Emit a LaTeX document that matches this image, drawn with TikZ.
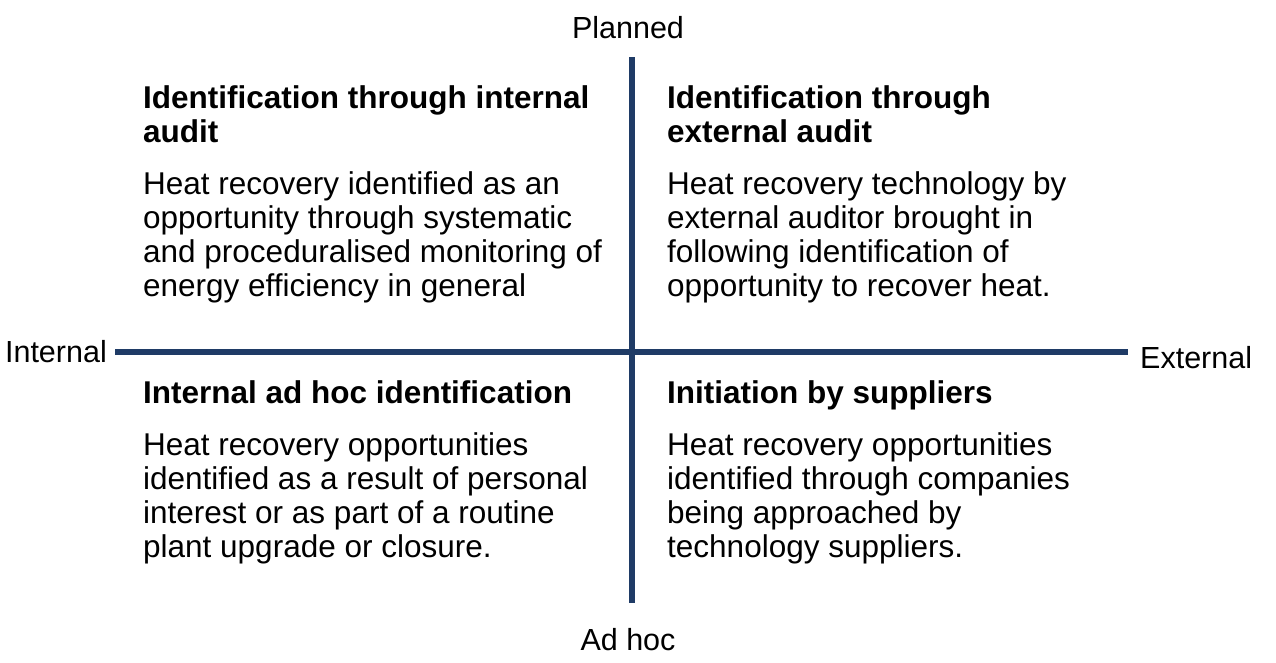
\documentclass[tikz,border=0pt]{standalone}
\usepackage{fontspec}
\setmainfont{Liberation Sans}
\definecolor{axisblue}{HTML}{1F3B66}
% one paragraph block whose baseline is that of its first line
\newcommand\qtext[1]{\parbox[t]{470pt}{\raggedright #1}}
\begin{document}
\begin{tikzpicture}[x=1pt,y=-1pt,
  txt/.style={inner sep=0pt, font=\fontsize{31.5}{34}\selectfont},
  body/.style={txt, anchor=base west},
  head/.style={body, font=\fontsize{31.5}{34}\selectfont\bfseries},
  axislabel/.style={inner sep=0pt, font=\fontsize{30.5}{34}\selectfont},
  axis/.style={draw=axisblue, line width=6pt}]
  \useasboundingbox[fill=white] (0,0) rectangle (1276,662);

  % axis end points
  \coordinate (vtop) at (632,57);
  \coordinate (vbot) at (632,603);
  \coordinate (hleft) at (115,352);
  \coordinate (hright) at (1128,352);
  \draw[axis] (vtop) -- (vbot);
  \draw[axis] (hleft) -- (hright);

  % axis labels
  \node[axislabel, anchor=base] (planned) at (628,38) {Planned};
  \node[axislabel, anchor=base] (adhoc) at (628,650) {Ad hoc};
  \node[axislabel, anchor=base east] (internal) at (107,362) {Internal};
  \node[axislabel, anchor=base west] (external) at (1140,368) {External};

  % top left quadrant
  \node[head] (h1) at (143,108) {\qtext{Identification through internal\\ audit}};
  \node[body] (b1) at (143,194) {\qtext{Heat recovery identified as an\\ opportunity through systematic\\ and proceduralised monitoring of\\ energy efficiency in general}};

  % top right quadrant
  \node[head] (h2) at (667,108) {\qtext{Identification through\\ external audit}};
  \node[body] (b2) at (667,194) {\qtext{Heat recovery technology by\\ external auditor brought in\\ following identification of\\ opportunity to recover heat.}};

  % bottom left quadrant
  \node[head] (h3) at (143,403) {\qtext{Internal ad hoc identification}};
  \node[body] (b3) at (143,455) {\qtext{Heat recovery opportunities\\ identified as a result of personal\\ interest or as part of a routine\\ plant upgrade or closure.}};

  % bottom right quadrant
  \node[head] (h4) at (667,403) {\qtext{Initiation by suppliers}};
  \node[body] (b4) at (667,455) {\qtext{Heat recovery opportunities\\ identified through companies\\ being approached by\\ technology suppliers.}};
\end{tikzpicture}
\end{document}
